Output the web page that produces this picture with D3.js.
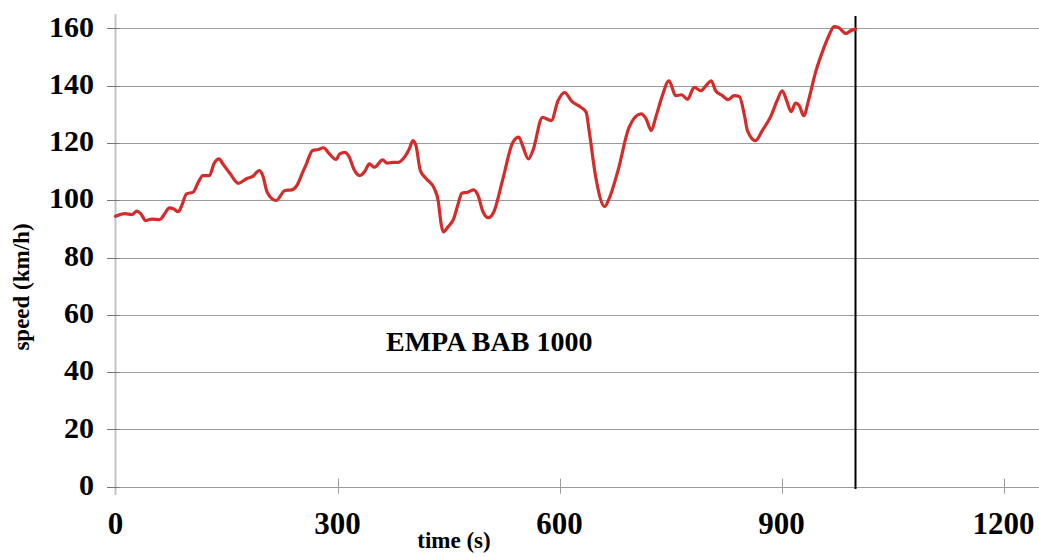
<!DOCTYPE html>
<html>
<head>
<meta charset="utf-8">
<script src="https://cdn.jsdelivr.net/npm/d3@7"></script>
<style>
  html, body { margin: 0; padding: 0; background: #fff; }
  svg { display: block; }
</style>
</head>
<body>
<svg id="chart" width="1039" height="557"></svg>
<script>
// ---- data ----
const timeS = [0,13,22,29,34,41,49,60,65,73,78,85,89,96,105,112,118,127,133,140,145,155,166,177,186,194,199,205,217,229,238,245,253,258,266,274,281,289,298,303,310,316,322,330,337,343,350,361,367,375,382,391,397,402,406,412,420,431,436,440,443,449,457,463,468,476,484,490,496,504,511,523,537,545,550,558,564,577,589,598,607,616,629,636,640,649,661,667,679,694,710,717,724,730,739,748,757,765,773,782,791,798,805,811,820,828,836,843,850,854,865,874,886,894,901,907,913,919,924,930,937,946,955,964,971,977,987,994,1000];
const speedKmh = [94.4,95.3,95.0,96.2,95.3,92.9,93.4,93.2,94.7,97.3,97.0,96.0,97.8,102.2,102.8,106.3,108.6,108.6,112.7,114.4,112.7,109.2,105.9,107.5,108.4,110.3,108.6,102.8,99.9,103.4,103.6,105.1,109.8,112.7,117.3,117.7,118.3,116.2,114.2,116.2,116.7,115.0,110.9,108.6,110.1,112.7,111.5,114.1,112.9,113.2,113.2,115.2,117.9,120.8,119.1,110.3,107.5,104.0,99.9,91.8,88.9,90.6,93.5,98.7,102.4,102.8,103.6,101.6,96.4,93.9,95.8,106.9,120.2,122.0,119.1,114.4,117.3,128.9,127.8,134.7,137.6,134.7,132.4,130.7,124.3,108.0,97.8,100.5,110.3,125.4,130.1,128.4,124.3,128.9,136.5,141.7,136.5,136.8,135.2,139.4,138.2,140.0,141.7,138.2,136.5,135.1,136.5,136.2,129.5,124.3,120.8,124.3,129.5,134.7,138.2,134.7,130.9,133.9,133.0,129.5,135.3,144.6,151.6,157.4,160.6,160.3,158.2,159.2,159.7];
const xTicks = [0, 300, 600, 900, 1200];
const yTicks = [0, 20, 40, 60, 80, 100, 120, 140, 160];
const cycleEnd = 1000;
const labelText = "EMPA BAB 1000";
const xTitle = "time (s)";
const yTitle = "speed (km/h)";

// ---- layout ----
const svg = d3.select("#chart");
const font = "'Liberation Serif', 'Times New Roman', serif";
const x = d3.scaleLinear().domain([0, 1200]).range([115.5, 1003.5]);
const y = d3.scaleLinear().domain([0, 160]).range([486.7, 28.3]);
const gridLeft = 107, gridRight = 1039;

// horizontal gridlines (incl. x axis at 0)
svg.append("g").selectAll("line").data(yTicks).join("line")
  .attr("x1", gridLeft).attr("x2", gridRight)
  .attr("y1", d => Math.round(y(d)) + 0.5).attr("y2", d => Math.round(y(d)) + 0.5)
  .attr("stroke", "#9c9c9c").attr("stroke-width", 1);

// y axis line
svg.append("line")
  .attr("x1", x(0)).attr("x2", x(0)).attr("y1", 14).attr("y2", 495)
  .attr("stroke", "#c4c4c4").attr("stroke-width", 2);

// y tick marks
svg.append("g").selectAll("line").data(yTicks).join("line")
  .attr("x1", gridLeft).attr("x2", x(0) + 4)
  .attr("y1", d => Math.round(y(d)) + 0.5).attr("y2", d => Math.round(y(d)) + 0.5)
  .attr("stroke", "#777").attr("stroke-width", 1);

// x tick marks (crossing the axis)
svg.append("g").selectAll("line").data(xTicks.filter(d => d > 0)).join("line")
  .attr("x1", d => Math.round(x(d)) + 0.5).attr("x2", d => Math.round(x(d)) + 0.5)
  .attr("y1", y(0) - 8).attr("y2", y(0) + 7)
  .attr("stroke", "#9c9c9c").attr("stroke-width", 1);

// y tick labels
svg.append("g").selectAll("text").data(yTicks).join("text")
  .attr("x", 94).attr("y", d => y(d) - 2)
  .attr("dy", "0.34em")
  .attr("text-anchor", "end")
  .attr("font-family", font).attr("font-weight", "bold").attr("font-size", 30)
  .attr("fill", "#000")
  .text(d => d);

// x tick labels
svg.append("g").selectAll("text").data(xTicks).join("text")
  .attr("x", d => x(d)).attr("y", 534)
  .attr("text-anchor", "middle")
  .attr("font-family", font).attr("font-weight", "bold").attr("font-size", 31)
  .attr("fill", "#000")
  .text(d => d);

// axis titles
svg.append("text")
  .attr("x", 454).attr("y", 548)
  .attr("text-anchor", "middle")
  .attr("font-family", font).attr("font-weight", "bold").attr("font-size", 23)
  .text(xTitle);

svg.append("text")
  .attr("transform", "translate(29,287) rotate(-90)")
  .attr("text-anchor", "middle")
  .attr("font-family", font).attr("font-weight", "bold").attr("font-size", 23)
  .text(yTitle);

// cycle end vertical line
svg.append("line")
  .attr("x1", x(cycleEnd)).attr("x2", x(cycleEnd))
  .attr("y1", 16).attr("y2", 489)
  .attr("stroke", "#000").attr("stroke-width", 2);

// speed trace
const pts = timeS.map((t, i) => [t, speedKmh[i]]);
const line = d3.line().x(d => x(d[0])).y(d => y(d[1])).curve(d3.curveMonotoneX);
svg.append("path")
  .datum(pts)
  .attr("d", line)
  .attr("fill", "none")
  .attr("stroke", "#d42b2b")
  .attr("stroke-width", 3.2)
  .attr("stroke-linejoin", "round")
  .attr("stroke-linecap", "round");

// in-plot label
svg.append("text")
  .attr("x", 386).attr("y", 351)
  .attr("font-family", font).attr("font-weight", "bold").attr("font-size", 28)
  .text(labelText);
</script>
</body>
</html>
